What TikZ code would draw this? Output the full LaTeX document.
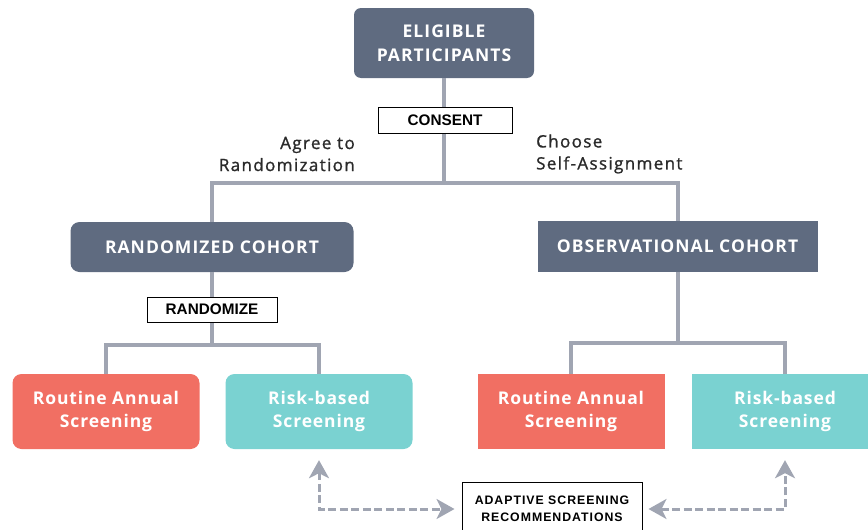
\documentclass[tikz,border=0pt]{standalone}
\usepackage{fontspec}
\setmainfont{Open Sans}
\newfontfamily\arialb{Liberation Sans}[BoldFont={Liberation Sans Bold}]
\usetikzlibrary{arrows.meta}
\definecolor{slate}{HTML}{5F6B80}
\definecolor{salmon}{HTML}{F16F63}
\definecolor{tealbox}{HTML}{7AD2D1}
\definecolor{linegray}{HTML}{A0A5B2}
\definecolor{labeltext}{HTML}{2A2A2A}
\begin{document}
\begin{tikzpicture}[x=1pt,y=-1pt,
  conn/.style={draw=linegray,line width=4pt},
  dasharrow/.style={draw=linegray,line width=3pt,dash pattern=on 8pt off 3.5pt,
    {Stealth[length=18pt,width=20pt,inset=5pt]}-{Stealth[length=18pt,width=20pt,inset=5pt]}},
  headbox/.style={fill=slate,text=white,font=\fontsize{17.5}{24}\selectfont\bfseries\addfontfeature{LetterSpace=6},align=center,inner sep=0pt},
  tagbox/.style={draw=black,line width=1pt,fill=white,font=\arialb\fontsize{15.3}{17}\selectfont\bfseries,inner sep=0pt},
  scrbox/.style={text=white,font=\fontsize{17.5}{23}\selectfont\bfseries\addfontfeature{LetterSpace=5},align=center,inner sep=0pt,minimum width=187pt,minimum height=75pt},
  lbl/.style={text=labeltext,font=\fontsize{17}{22}\selectfont\addfontfeature{FakeBold=1.2,LetterSpace=8},inner sep=0pt}
]
\useasboundingbox (0,0) rectangle (868,530);
% boxes
\node[headbox,rounded corners=7pt,minimum width=180pt,minimum height=70pt] (elig) at (444,43) {ELIGIBLE\\PARTICIPANTS};
\node[headbox,rounded corners=9pt,minimum width=283pt,minimum height=50pt] (rc) at (212,247) {RANDOMIZED COHORT};
\node[headbox,minimum width=280pt,minimum height=51pt] (oc) at (677.5,246.5) {OBSERVATIONAL COHORT};
\node[scrbox,fill=salmon,rounded corners=9pt] (lrout) at (106,411.5) {Routine Annual\\Screening};
\node[scrbox,fill=tealbox,rounded corners=9pt] (lrisk) at (319,411.5) {Risk-based\\Screening};
\node[scrbox,fill=salmon] (rrout) at (571,411.5) {Routine Annual\\Screening};
\node[scrbox,fill=tealbox] (rrisk) at (785,411.5) {Risk-based\\Screening};
% junctions
\coordinate (jtop) at (444,183);
\coordinate (jrl) at (212,345);
\coordinate (jor) at (677.5,343);
% connectors
\draw[conn] (elig.south) -- (jtop);
\draw[conn] (rc.north) |- (jtop) -| (oc.north);
\draw[conn] (rc.south) -- (jrl);
\draw[conn] (lrout.north) |- (jrl) -| (lrisk.north);
\draw[conn] (oc.south) -- (jor);
\draw[conn] (rrout.north) |- (jor) -| (rrisk.north);
% tags over lines
\node[tagbox,minimum width=134pt,minimum height=26pt] (consent) at (445,120) {CONSENT};
\node[tagbox,minimum width=130pt,minimum height=25pt] (rand) at (212,309.5) {RANDOMIZE};
\node[tagbox,minimum width=180pt,minimum height=54pt,align=center,font=\arialb\fontsize{12.3}{17}\selectfont\bfseries\addfontfeature{LetterSpace=8}] (adapt) at (552,509) {ADAPTIVE SCREENING\\RECOMMENDATIONS};
% labels
\node[lbl,anchor=east,align=right] (agree) at (355,154) {Agree to\\Randomization};
\node[lbl,anchor=west,align=left] (choose) at (536,154) {Choose\\Self-Assignment};
% dashed arrows
\draw[dasharrow] ([yshift=-11pt]lrisk.south) |- ([xshift=-7pt]adapt.west);
\draw[dasharrow] ([xshift=6pt]adapt.east) -| ([yshift=-11pt]rrisk.south);
\end{tikzpicture}
\end{document}
